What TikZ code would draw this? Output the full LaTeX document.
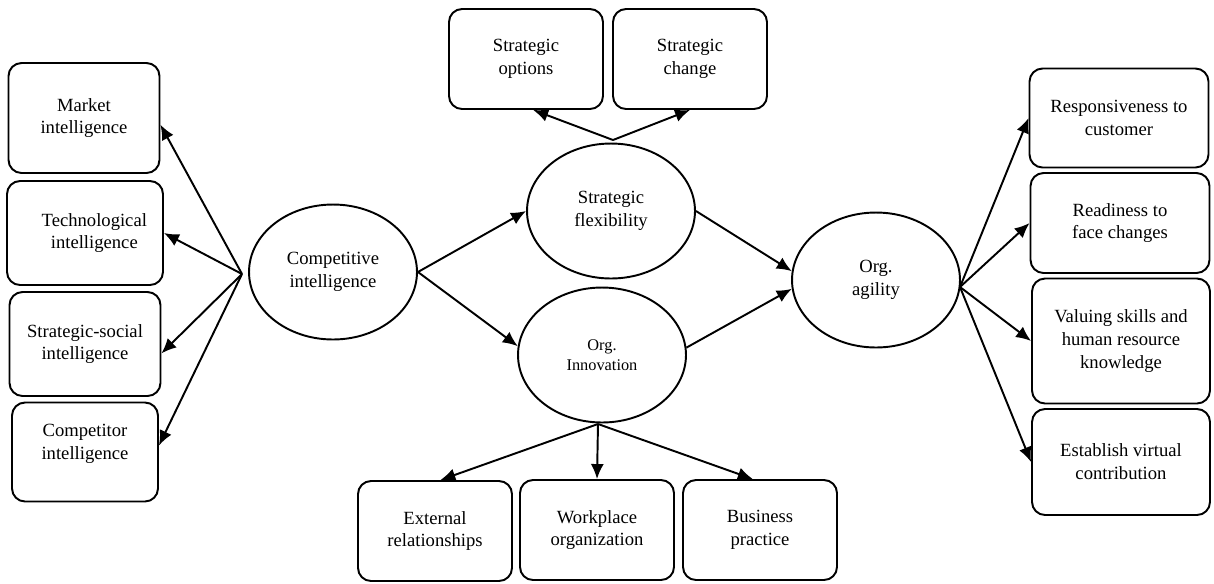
\documentclass[tikz,border=0pt]{standalone}
\usepackage{fontspec}
\setmainfont{Liberation Serif}
\usetikzlibrary{shapes.geometric,arrows.meta}
\tikzset{
	box/.style={draw, line width=1.1pt, rounded corners=2.6mm, align=center, minimum width=3.02cm, minimum height=2cm, inner sep=2pt, font=\fontsize{10.6}{13}\selectfont},
	oval/.style={draw, ellipse, line width=1.1pt, align=center, minimum width=3.36cm, minimum height=2.7cm, inner sep=0pt, font=\fontsize{10.6}{13}\selectfont},
	arr/.style={line width=1.1pt, -{Latex[length=3mm,width=2.6mm]}}
}
\begin{document}
\begin{tikzpicture}[x=0.02cm,y=-0.02cm]
		\useasboundingbox (0,0) rectangle (1214,583);

		\node[oval] (ci) at (333,272) {Competitive\\intelligence};
		\node[oval] (sf) at (611,211) {Strategic\\flexibility};
		\node[oval, font=\fontsize{9.3}{11.3}\selectfont] (oi) at (602,355) {Org.\\Innovation};
		\node[oval] (oa) at (876,280) {Org.\\agility};

		\node[box, minimum height=2.2cm] (market) at (84,118) {Market\\intelligence};
		\node[box, minimum width=3.12cm, minimum height=2.08cm] (tech) at (85,233) {\hspace{1em}Technological\\\hspace{1em}intelligence};
		\node[box, minimum height=2.08cm] (social) at (85,344) {Strategic-social\\intelligence};
		\node[box, minimum width=2.92cm, minimum height=1.98cm, text depth=12pt] (rival) at (85,452) {Competitor\\intelligence};

		\node[box, minimum width=3.08cm] (options) at (526,59) {Strategic\\options};
		\node[box, minimum width=3.08cm] (change) at (690,59) {Strategic\\change};

		\node[box, minimum width=3.08cm] (external) at (435,531) {External\\relationships};
		\node[box, minimum width=3.08cm] (workplace) at (597,530) {Workplace\\organization};
		\node[box, minimum width=3.08cm] (business) at (760,530) {Business\\practice};

		\node[box, minimum width=3.58cm, minimum height=1.98cm] (resp) at (1119,118) {Responsiveness to\\customer};
		\node[box, minimum width=3.58cm] (ready) at (1120,223) {Readiness to\\face changes};
		\node[box, minimum width=3.56cm, minimum height=2.5cm] (valuing) at (1121,341) {Valuing skills and\\human resource\\knowledge};
		\node[box, minimum width=3.56cm, minimum height=2.12cm] (virtual) at (1121,462) {Establish virtual\\contribution};

		\coordinate (ci-fan) at (242,274);
		\coordinate (sf-fan) at (613,140);
		\coordinate (oi-fan) at (598,424);
		\coordinate (oa-fan) at (960,287);

		\draw[arr] (ci-fan) -- (market.355);
		\draw[arr] (ci-fan) -- (tech.east);
		\draw[arr] (ci-fan) -- (social.353);
		\draw[arr] (ci-fan) -- (rival.5);

		\draw[arr] (ci.east) -- (sf.west);
		\draw[arr] (ci.east) -- (oi.174);
		\draw[arr] (sf.east) -- (oa.174);
		\draw[arr] (oi.5) -- (oa.186);

		\draw[arr] (sf-fan) -- (options.278);
		\draw[arr] (sf-fan) -- (change.south);

		\draw[arr] (oi-fan) -- (external.84);
		\draw[arr] (oi-fan) -- (workplace.north);
		\draw[arr] (oi-fan) -- (business.98);

		\draw[arr] (oa-fan) -- (resp.west);
		\draw[arr] (oa-fan) -- (ready.west);
		\draw[arr] (oa-fan) -- (valuing.west);
		\draw[arr] (oa-fan) -- (virtual.west);
	\end{tikzpicture}
\end{document}
